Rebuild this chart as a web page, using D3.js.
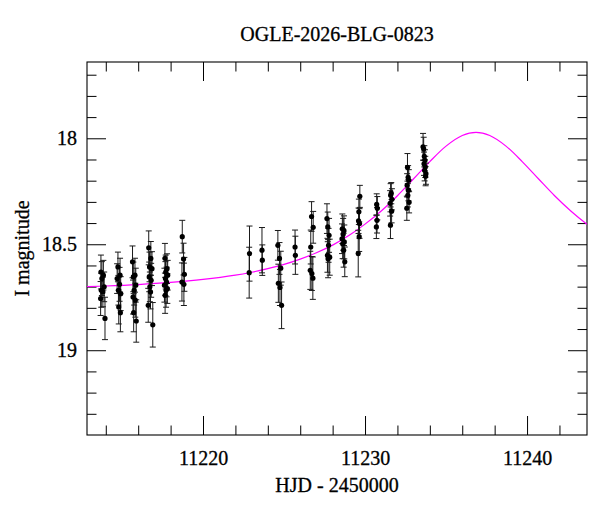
<!DOCTYPE html>
<html><head><meta charset="utf-8">
<script src="https://cdn.jsdelivr.net/npm/d3@7"></script>
<style>
body{margin:0;background:#fff;}
svg text{font-family:"Liberation Serif","Times New Roman",serif;fill:#000;stroke:#000;stroke-width:0.3px;}
</style></head>
<body><svg id="c" width="600" height="512"></svg>
<script>
const titleText = "OGLE-2026-BLG-0823";
const xLabel = "HJD - 2450000";
const yLabel = "I magnitude";
const xMajorTicks = [11220, 11230, 11240];
const xMinorTicks = [11214,11216,11218,11222,11224,11226,11228,11232,11234,11236,11238,11242];
const yMajorTicks = [18, 18.5, 19];
const yMajorLabels = ["18", "18.5", "19"];
const yMinorTicks = [17.7,17.8,17.9,18.1,18.2,18.3,18.4,18.6,18.7,18.8,18.9,19.1,19.2,19.3];

const hjd = [
 11213.70,11213.85,11213.76,11213.90,11213.72,11213.82,11213.68,11213.95,
 11214.75,11214.88,11214.70,11214.85,11214.78,11214.92,11214.80,11214.90,
 11215.65,11215.80,11215.70,11215.85,11215.75,11215.68,11215.82,11215.72,11215.88,
 11216.65,11216.78,11216.70,11216.85,11216.68,11216.80,11216.72,11216.76,11216.62,11216.90,
 11217.65,11217.78,11217.70,11217.82,11217.68,11217.75,11217.62,11217.80,11217.72,11217.66,
 11218.72,11218.80,11218.85,11218.70,11218.82,
 11222.87,11222.85,
 11223.64,11223.66,
 11224.62,11224.72,11224.80,11224.65,11224.75,11224.85,
 11225.68,11225.70,
 11226.70,11226.80,11226.65,11226.62,11226.72,11226.78,
 11227.65,11227.70,11227.78,11227.75,11227.68,11227.82,11227.72,
 11228.60,11228.70,11228.65,11228.58,11228.72,11228.62,11228.68,11228.75,
 11229.68,11229.62,11229.60,11229.66,11229.64,11229.58,
 11230.72,11230.76,11230.74,11230.70,
 11231.62,11231.58,11231.66,11231.55,11231.64,11231.57,
 11232.62,11232.66,11232.70,11232.60,11232.68,11232.64,11232.72,11232.58,
 11233.58,11233.62,11233.66,11233.70,11233.64,11233.72,11233.68,11233.76,11233.74
];
const imag = [
 18.631,18.646,18.662,18.701,18.717,18.725,18.756,18.850,
 18.607,18.646,18.662,18.689,18.717,18.733,18.796,18.823,
 18.583,18.646,18.654,18.693,18.717,18.749,18.764,18.823,18.862,
 18.517,18.567,18.607,18.615,18.654,18.670,18.701,18.725,18.788,18.880,
 18.566,18.615,18.631,18.646,18.662,18.678,18.693,18.709,18.717,18.741,
 18.464,18.570,18.642,18.678,18.689,
 18.544,18.634,
 18.528,18.575,
 18.505,18.567,18.613,18.684,18.704,18.788,
 18.513,18.552,
 18.369,18.420,18.513,18.623,18.638,18.660,
 18.379,18.418,18.458,18.505,18.552,18.561,18.568,
 18.427,18.436,18.453,18.474,18.489,18.498,18.528,18.583,
 18.274,18.347,18.389,18.402,18.464,18.544,
 18.312,18.330,18.387,18.418,
 18.259,18.269,18.288,18.307,18.344,18.410,
 18.137,18.184,18.198,18.222,18.245,18.269,18.302,18.330,
 18.040,18.050,18.085,18.104,18.120,18.135,18.151,18.167,18.179
];
const ierr = [
 0.08,0.07,0.08,0.07,0.08,0.07,0.08,0.10,
 0.07,0.08,0.07,0.08,0.07,0.08,0.08,0.09,
 0.075,0.08,0.07,0.08,0.07,0.08,0.08,0.09,0.10,
 0.08,0.08,0.07,0.08,0.07,0.08,0.07,0.08,0.08,0.105,
 0.07,0.07,0.08,0.07,0.08,0.07,0.08,0.07,0.08,0.085,
 0.077,0.075,0.08,0.09,0.10,
 0.13,0.12,
 0.107,0.072,
 0.07,0.075,0.08,0.09,0.085,0.11,
 0.08,0.09,
 0.07,0.075,0.08,0.09,0.08,0.10,
 0.07,0.07,0.08,0.08,0.08,0.085,0.09,
 0.07,0.07,0.075,0.07,0.08,0.07,0.08,0.07,
 0.052,0.06,0.06,0.07,0.07,0.11,
 0.05,0.055,0.06,0.055,
 0.05,0.055,0.05,0.06,0.055,0.063,
 0.065,0.055,0.05,0.055,0.05,0.055,0.05,0.057,
 0.063,0.055,0.05,0.05,0.055,0.05,0.05,0.05,0.045
];

const modelHjd = [11212.8,11214,11216,11218,11220,11222,11223,11224,11225,11226,11227,11228,11229,11230,11231,11232,11233,11234,11235,11236,11236.85,11237.7,11238.7,11239.7,11240.7,11241.7,11242.7,11243.7,11244.0];
const modelMag = [18.700,18.697,18.690,18.680,18.666,18.646,18.632,18.615,18.595,18.570,18.540,18.504,18.459,18.405,18.343,18.271,18.191,18.110,18.037,17.987,17.972,17.987,18.037,18.110,18.191,18.271,18.343,18.406,18.423];

const L = 87, R = 587, T = 62, B = 435;
const svg = d3.select("#c");
const x = d3.scaleLinear().domain([11212.84, 11243.70]).range([L, R]);
const y = d3.scaleLinear().domain([17.64, 19.40]).range([T, B]);

svg.append("defs").append("clipPath").attr("id","clip")
  .append("rect").attr("x",L).attr("y",T).attr("width",R-L).attr("height",B-T);

const MAJ = 19, MIN = 9.5;
function styleAxis(g){ g.select(".domain").remove(); g.selectAll("line").attr("stroke","#000").attr("stroke-width",1); g.selectAll("text").attr("font-size","20px").attr("font-family","Liberation Serif, serif"); }

svg.append("g").attr("transform",`translate(0,${B})`)
  .call(d3.axisBottom(x).tickValues(xMajorTicks).tickSize(-MAJ).tickPadding(16).tickFormat(d3.format("d"))).call(styleAxis);
svg.append("g").attr("transform",`translate(0,${B})`)
  .call(d3.axisBottom(x).tickValues(xMinorTicks).tickSize(-MIN).tickFormat("")).call(styleAxis);
svg.append("g").attr("transform",`translate(0,${T})`)
  .call(d3.axisTop(x).tickValues(xMajorTicks).tickSize(-MAJ).tickFormat("")).call(styleAxis);
svg.append("g").attr("transform",`translate(0,${T})`)
  .call(d3.axisTop(x).tickValues(xMinorTicks).tickSize(-MIN).tickFormat("")).call(styleAxis);

svg.append("g").attr("transform",`translate(${L},0)`)
  .call(d3.axisLeft(y).tickValues(yMajorTicks).tickSize(-MAJ).tickPadding(10).tickFormat((d,i)=>yMajorLabels[i])).call(styleAxis);
svg.append("g").attr("transform",`translate(${L},0)`)
  .call(d3.axisLeft(y).tickValues(yMinorTicks).tickSize(-MIN).tickFormat("")).call(styleAxis);
svg.append("g").attr("transform",`translate(${R},0)`)
  .call(d3.axisRight(y).tickValues(yMajorTicks).tickSize(-MAJ).tickFormat("")).call(styleAxis);
svg.append("g").attr("transform",`translate(${R},0)`)
  .call(d3.axisRight(y).tickValues(yMinorTicks).tickSize(-MIN).tickFormat("")).call(styleAxis);

svg.append("rect").attr("x",L).attr("y",T).attr("width",R-L).attr("height",B-T)
  .attr("fill","none").attr("stroke","#000").attr("stroke-width",1.1);

const plot = svg.append("g").attr("clip-path","url(#clip)");
const pts = modelHjd.map((t,i)=>[t, modelMag[i]]);
plot.append("path").datum(pts)
  .attr("d", d3.line().x(d=>x(d[0])).y(d=>y(d[1])).curve(d3.curveCatmullRom.alpha(0.5)))
  .attr("fill","none").attr("stroke","#ff00ff").attr("stroke-width",1.2);

const data = hjd.map((t,i)=>({t, m:imag[i], e:ierr[i]}));
const eb = plot.append("g").attr("stroke","#1a1a1a").attr("stroke-width",1);
const cap = 3;
data.forEach(d=>{
  const cx = x(d.t), y1 = y(d.m - d.e), y2 = y(d.m + d.e);
  eb.append("line").attr("x1",cx).attr("x2",cx).attr("y1",y1).attr("y2",y2);
  eb.append("line").attr("x1",cx-cap).attr("x2",cx+cap).attr("y1",y1).attr("y2",y1);
  eb.append("line").attr("x1",cx-cap).attr("x2",cx+cap).attr("y1",y2).attr("y2",y2);
});
plot.append("g").selectAll("circle").data(data).join("circle")
  .attr("cx",d=>x(d.t)).attr("cy",d=>y(d.m)).attr("r",2.6).attr("fill","#000");

svg.append("text").attr("x",(L+R)/2).attr("y",41).attr("text-anchor","middle")
  .attr("font-size","20px").text(titleText);
svg.append("text").attr("x",(L+R)/2).attr("y",492).attr("text-anchor","middle")
  .attr("font-size","20px").text(xLabel);
svg.append("text").attr("transform",`translate(29,${(T+B)/2}) rotate(-90)`).attr("text-anchor","middle")
  .attr("font-size","20px").text(yLabel);
</script></body></html>
